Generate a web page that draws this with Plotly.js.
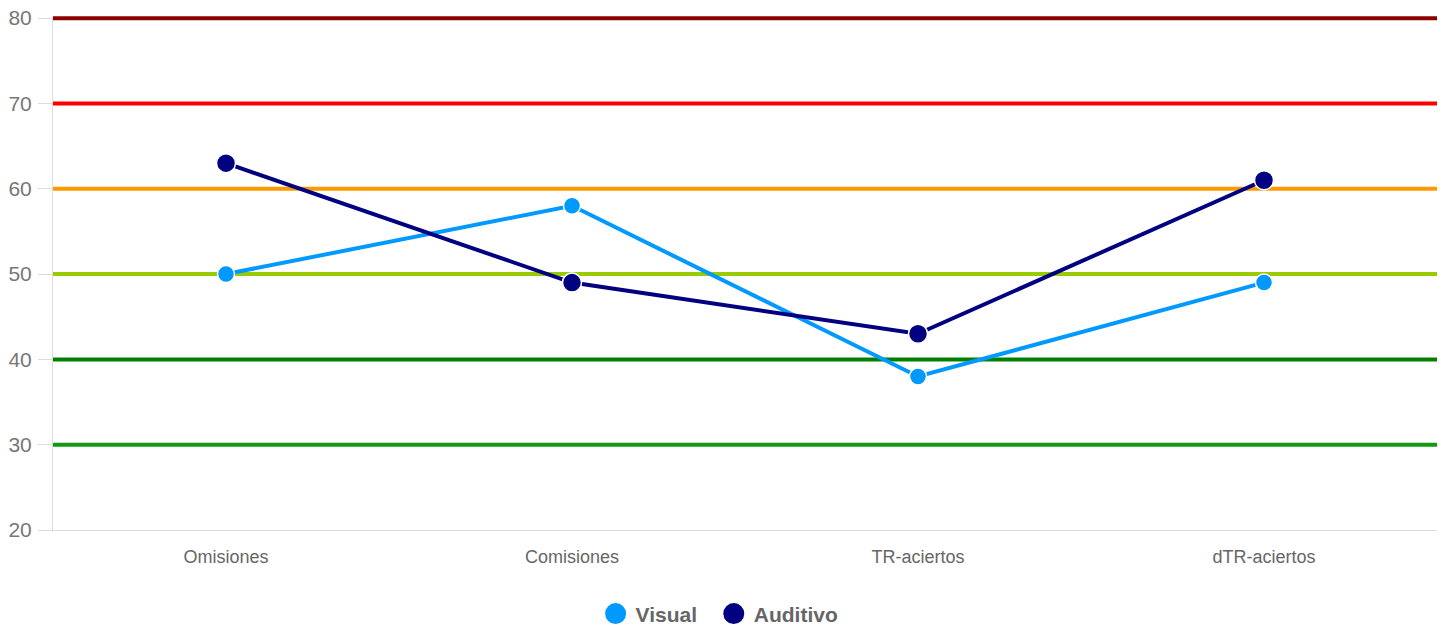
<!DOCTYPE html>
<html>
<head>
<meta charset="utf-8">
<script src="https://cdn.plot.ly/plotly-3.0.1.min.js"></script>
<style>html,body{margin:0;padding:0;background:#fff;}#chart{width:1445px;height:629px;}</style>
</head>
<body>
<div id="chart"></div>
<script>
const categories = ["Omisiones", "Comisiones", "TR-aciertos", "dTR-aciertos"];
const visual = [50, 58, 38, 49];
const auditivo = [63, 49, 43, 61];
const seriesNames = ["Visual", "Auditivo"];
const thresholdValues = [80, 70, 60, 50, 40, 30];
const thresholdColors = ["#8b0000", "#ff0000", "#ff9900", "#99cc00", "#008000", "#109a10"];
const yTicks = [20, 30, 40, 50, 60, 70, 80];

const font = "Liberation Sans, Arial, sans-serif";
const visualColor = "#0099ff";
const auditivoColor = "#000080";

const traces = [
  {x: categories, y: visual, type: "scatter", mode: "lines+markers", name: seriesNames[0], showlegend: false,
   line: {color: visualColor, width: 4}, marker: {color: visualColor, size: 17, line: {color: "#fff", width: 1.5}}},
  {x: categories, y: auditivo, type: "scatter", mode: "lines+markers", name: seriesNames[1], showlegend: false,
   line: {color: auditivoColor, width: 4}, marker: {color: auditivoColor, size: 19, line: {color: "#fff", width: 1.5}}},
  {x: [null], y: [null], type: "scatter", mode: "markers", name: seriesNames[0] + "\u00a0\u00a0",
   marker: {color: visualColor, size: 16, line: {color: visualColor, width: 5}}},
  {x: [null], y: [null], type: "scatter", mode: "markers", name: seriesNames[1],
   marker: {color: auditivoColor, size: 16, line: {color: auditivoColor, width: 5}}}
];

const shapes = thresholdValues.map((v, i) => ({
  type: "line", xref: "paper", yref: "y", x0: 0, x1: 1, y0: v, y1: v,
  line: {color: thresholdColors[i], width: 4}, layer: "below"
}));

const layout = {
  width: 1445, height: 629,
  margin: {l: 53, r: 8, t: 16, b: 99},
  paper_bgcolor: "#fff", plot_bgcolor: "#fff",
  font: {family: font, color: "#666"},
  showlegend: true,
  legend: {orientation: "h", x: 0.498, xanchor: "center", xref: "container", yref: "container", y: 0.024, yanchor: "middle",
           font: {size: 21, color: "#666", family: font, weight: "bold"}, itemwidth: 30, itemsizing: "trace"},
  xaxis: {type: "category", range: [-0.5, 3.5], showgrid: false, zeroline: false,
          showline: true, linecolor: "#ddd", linewidth: 1, ticks: "", ticklabelstandoff: 10,
          tickfont: {size: 18, color: "#666", family: font}, fixedrange: true},
  yaxis: {range: [20, 80.25], tickvals: yTicks, showgrid: false, zeroline: false,
          showline: true, linecolor: "#ddd", linewidth: 1, ticks: "outside", ticklen: 14, tickcolor: "#ddd",
          ticklabelstandoff: 2, tickfont: {size: 21, color: "#777", family: font}},
  shapes: shapes
};

Plotly.newPlot("chart", traces, layout, {displayModeBar: false, staticPlot: true});
</script>
</body>
</html>
